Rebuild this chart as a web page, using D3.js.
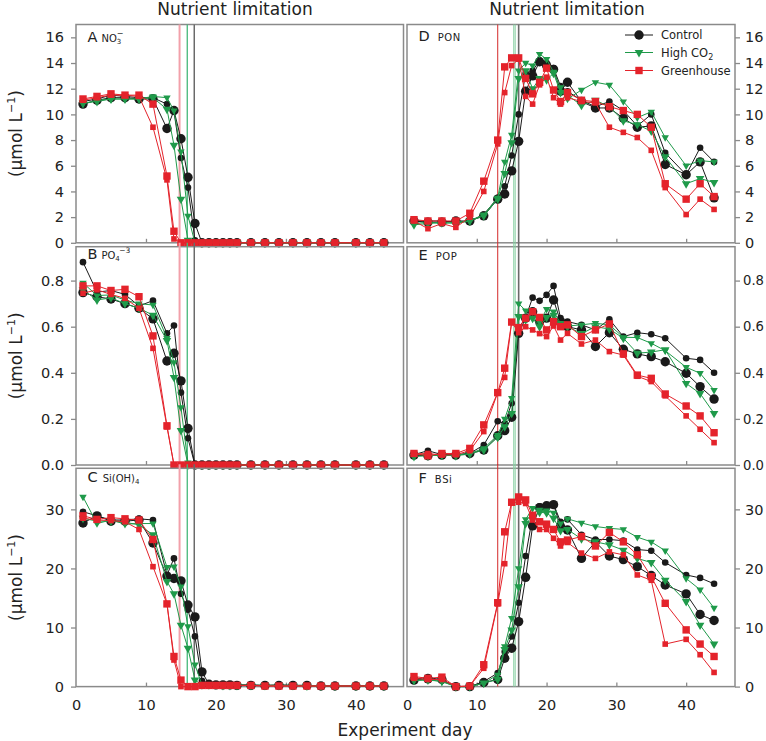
<!DOCTYPE html>
<html><head><meta charset="utf-8">
<script src="https://cdn.jsdelivr.net/npm/d3@7"></script>
<style>body{margin:0;background:#fff}svg{display:block}</style>
</head><body>
<svg id="chart" width="766" height="741"></svg>
<script>
// ---------- data ----------
const days = [1,3,5,7,9,11,13,14,15,16,17,18,19,20,21,22,23,25,27,29,31,33,35,37,40,42,44];

// A: NO3-
const no3Control = [
 [11.0,11.2,11.5,11.4,11.3,11.3,10.8,10.2,6.6,4.3,0.2,0,0,0,0,0,0,0,0,0,0,0,0,0,0,0,0],
 [10.8,11.1,11.3,11.3,11.2,11.2,8.9,10.3,8.1,5.1,1.5,0,0,0,0,0,0,0,0,0,0,0,0,0,0,0,0]];
const no3HighCO2 = [
 [10.8,11.1,11.2,11.2,11.2,11.4,11.3,10.3,7.1,2.1,0,0,0,0,0,0,0,0,0,0,0,0,0,0,0,0,0],
 [10.9,11.0,11.2,11.2,11.2,11.3,10.4,7.6,3.4,0.2,0,0,0,0,0,0,0,0,0,0,0,0,0,0,0,0,0]];
const no3Greenhouse = [
 [11.1,11.3,11.5,11.5,11.4,9.0,4.9,0.3,0,0,0,0,0,0,0,0,0,0,0,0,0,0,0,0,0,0,0],
 [11.2,11.4,11.6,11.5,11.5,10.8,5.2,0.9,0,0,0,0,0,0,0,0,0,0,0,0,0,0,0,0,0,0,0]];

// B: PO4-3
const po4Control = [
 [0.88,0.75,0.757,0.74,0.69,0.713,0.571,0.605,0.314,0.116,0,0,0,0,0,0,0,0,0,0,0,0,0,0,0,0,0],
 [0.748,0.73,0.72,0.70,0.68,0.634,0.451,0.485,0.365,0.159,0,0,0,0,0,0,0,0,0,0,0,0,0,0,0,0,0]];
const po4HighCO2 = [
 [0.79,0.735,0.738,0.715,0.70,0.694,0.55,0.445,0.25,0.01,0,0,0,0,0,0,0,0,0,0,0,0,0,0,0,0,0],
 [0.76,0.716,0.725,0.70,0.68,0.65,0.54,0.38,0.15,0,0,0,0,0,0,0,0,0,0,0,0,0,0,0,0,0,0]];
const po4Greenhouse = [
 [0.745,0.76,0.74,0.723,0.68,0.506,0.165,0,0,0,0,0,0,0,0,0,0,0,0,0,0,0,0,0,0,0,0],
 [0.777,0.777,0.757,0.762,0.73,0.56,0.17,0,0,0,0,0,0,0,0,0,0,0,0,0,0,0,0,0,0,0,0]];

// C: Si(OH)4
const siControl = [
 [29.6,28.9,28.2,28.2,28.4,28.2,18.9,21.7,15.7,13.0,8.5,1.0,0.3,0.3,0.3,0.3,0.3,0.3,0.2,0.3,0.2,0.2,0.1,0.1,0.1,0.1,0.1],
 [27.7,28.9,28.0,28.0,28.2,24.3,18.7,18.3,17.9,13.8,11.8,2.5,0.4,0.3,0.3,0.3,0.2,0.2,0.2,0.2,0.2,0.2,0.1,0.1,0.1,0.1,0.1]];
const siHighCO2 = [
 [32.1,27.6,28.2,27.5,27.6,27.6,20.2,20.3,16.9,10.2,3.7,0.3,0.3,0.3,0.3,0.3,0.3,0.2,0.2,0.2,0.2,0.2,0.1,0.1,0.1,0.1,0.1],
 [28.5,28.0,28.0,27.8,27.4,25.7,17.8,15.7,10.4,6.5,1.1,0.3,0.3,0.3,0.2,0.2,0.2,0.2,0.2,0.2,0.2,0.1,0.1,0.1,0.1,0.1,0.1]];
const siGreenhouse = [
 [28.5,28.2,28.1,27.9,26.6,20.3,14.0,4.5,0,0,0,0.2,0.2,0.2,0.2,0.2,0.2,0.2,0.1,0.1,0.1,0.1,0.1,0.1,0.1,0.1,0.1],
 [28.9,28.3,28.6,28.4,28.2,24.9,14.0,5.1,1.1,0,0,0.2,0.2,0.2,0.2,0.2,0.2,0.2,0.1,0.1,0.1,0.1,0.1,0.1,0.1,0.1,0.1]];

// D: PON
const ponControl = [
 [1.7,1.7,1.7,1.6,1.7,2.2,3.5,4.4,6.8,10.0,13.2,13.4,14.2,14.0,13.6,12.2,11.8,11.1,10.6,11.0,10.3,9.1,10.0,7.0,5.3,7.4,6.3],
 [1.7,1.6,1.6,1.7,1.7,2.1,3.4,3.8,5.6,7.9,11.8,13.0,14.1,13.8,13.5,11.8,12.5,11.0,10.5,10.5,9.7,9.0,9.1,6.1,5.3,6.3,3.5]];
const ponHighCO2 = [
 [1.5,1.6,1.5,1.6,1.7,2.2,3.5,6.3,8.4,13.4,14.0,13.8,14.7,14.3,13.3,12.1,11.2,11.9,12.5,12.3,11.0,9.75,10.2,8.2,6.0,6.4,6.3],
 [1.4,1.5,1.6,1.5,1.7,2.1,3.4,5.4,7.8,12.8,13.4,12.0,12.8,12.7,13.2,11.7,11.5,10.7,11.1,10.6,9.5,9.2,8.7,6.7,4.6,5.0,4.7]];
const ponGreenhouse = [
 [1.7,1.1,1.5,1.2,2.0,4.0,7.7,11.7,13.8,14.3,11.4,10.8,12.3,12.9,11.3,10.8,11.3,11.0,10.9,9.0,8.6,8.2,7.2,4.3,2.2,3.4,2.6],
 [1.8,1.7,1.7,1.7,2.3,4.8,8.0,13.7,14.4,14.4,12.8,11.6,12.5,13.6,11.9,11.0,11.7,11.1,11.0,10.6,10.3,10.0,9.0,4.6,3.4,4.6,3.6]];

// E: POP
const popControl = [
 [0.045,0.062,0.045,0.045,0.05,0.087,0.19,0.18,0.268,0.593,0.64,0.726,0.712,0.738,0.777,0.637,0.622,0.608,0.586,0.632,0.557,0.574,0.567,0.55,0.463,0.456,0.40],
 [0.043,0.04,0.043,0.043,0.05,0.065,0.127,0.149,0.207,0.571,0.637,0.665,0.622,0.637,0.716,0.622,0.60,0.586,0.514,0.574,0.502,0.482,0.47,0.448,0.398,0.34,0.286]];
const popHighCO2 = [
 [0.048,0.043,0.04,0.043,0.05,0.072,0.13,0.20,0.29,0.70,0.67,0.665,0.62,0.676,0.665,0.615,0.603,0.608,0.615,0.608,0.554,0.553,0.528,0.496,0.424,0.398,0.325],
 [0.037,0.04,0.043,0.04,0.048,0.065,0.12,0.166,0.224,0.644,0.63,0.636,0.60,0.64,0.65,0.61,0.60,0.57,0.60,0.59,0.55,0.485,0.49,0.50,0.354,0.31,0.224]];
const popGreenhouse = [
 [0.048,0.05,0.043,0.045,0.062,0.145,0.314,0.38,0.62,0.574,0.60,0.586,0.57,0.557,0.603,0.542,0.571,0.525,0.542,0.492,0.477,0.385,0.362,0.30,0.213,0.155,0.097],
 [0.05,0.04,0.05,0.05,0.072,0.174,0.314,0.42,0.62,0.596,0.637,0.665,0.64,0.586,0.622,0.60,0.608,0.557,0.586,0.612,0.482,0.39,0.376,0.308,0.256,0.213,0.14]];

// F: BSi
const bsiControl = [
 [1.2,1.6,1.1,0,0,0.85,2.3,5.9,8.5,14.2,22.1,28.8,30.5,30.7,30.9,27.9,28.3,25.7,24.9,24.9,24.7,23.2,23.0,21.0,18.9,18.4,17.4],
 [1.1,1.3,1.2,0,0,0.7,1.2,4.8,6.5,11.0,18.5,27.2,30.3,30.6,30.8,27.1,26.5,21.7,24.5,22.1,21.5,20.3,18.8,17.2,15.7,12.2,11.2]];
const bsiHighCO2 = [
 [1.0,1.2,0.85,0,0,0.56,2.0,6.8,11.6,20.0,28.3,30.2,29.9,29.8,29.4,27.6,28.4,27.7,27.1,26.8,26.6,25.3,24.5,23.0,18.3,16.4,13.3],
 [1.1,1.1,0.9,0,0,0.6,1.2,6.3,9.6,16.9,27.6,28.7,29.5,29.4,28.5,26.4,26.6,25.0,24.5,24.0,23.1,21.7,21.0,18.0,14.4,10.4,7.2]];
const bsiGreenhouse = [
 [1.4,1.2,1.2,0,0.1,3.1,14.0,20.8,31.2,31.2,31.0,28.2,26.6,26.6,25.1,23.8,24.4,22.6,21.7,22.8,22.3,18.9,18.0,7.2,8.0,5.4,2.4],
 [1.7,1.4,1.6,0,0.1,3.7,14.2,26.2,31.2,32.1,31.6,29.0,27.9,27.5,26.6,24.5,24.8,25.4,23.8,26.1,24.5,22.3,18.6,14.1,9.6,7.2,5.1]];

// ticks & labels
const ticksN = [0,2,4,6,8,10,12,14,16];
const ticksP = [0,0.2,0.4,0.6,0.8];
const ticksSi = [0,10,20,30];
const ticksDay = [0,10,20,30,40];
const treatments = ["Control","High CO2","Greenhouse"];
const limitDaysLeft = [14.8,15.9,16.9];
const limitDaysRight = [13,15.3,15.5,16];
const columnTitles = ["Nutrient limitation","Nutrient limitation"];

// ---------- layout ----------
const FONT = "'DejaVu Sans', sans-serif";
const colX = [76, 407], colW = [327.5, 328], xMax = [46.8, 47];
const rowY = [24.5, 246.7, 468.3], rowH = 218.3;
const axisColor = "#8a8a8a";

const styles = [
  {color:"#1a1a1a", shape:"circle", sizes:[3.3,4.7]},
  {color:"#1f9a4a", shape:"tri", sizes:[24,32]},
  {color:"#e4232b", shape:"square", sizes:[5.6,7.4]}
];
const leftLineStyles = [{c:"#f2a0aa",w:2},{c:"#45b87a",w:1.3},{c:"#6a6a6a",w:1.5}];
const rightLineStyles = [{c:"#d42a2a",w:1},{c:"#86cfa2",w:1},{c:"#86cfa2",w:1},{c:"#6a6a6a",w:1.6}];

const panels = [
 {letter:"A", col:0,row:0, yMax:17, ticks:ticksN, fmt:d3.format("d"), data:[no3Control,no3HighCO2,no3Greenhouse], lab:"NO3", ldy:17},
 {letter:"B", col:0,row:1, yMax:0.947, ticks:ticksP, fmt:d3.format(".1f"), data:[po4Control,po4HighCO2,po4Greenhouse], lab:"PO4", ldy:12},
 {letter:"C", col:0,row:2, yMax:36.95, ticks:ticksSi, fmt:d3.format("d"), data:[siControl,siHighCO2,siGreenhouse], lab:"SI", ldy:13.5},
 {letter:"D", col:1,row:0, yMax:17, ticks:ticksN, fmt:d3.format("d"), data:[ponControl,ponHighCO2,ponGreenhouse], lab:"PON", ldy:16.3},
 {letter:"E", col:1,row:1, yMax:0.947, ticks:ticksP, fmt:d3.format(".1f"), data:[popControl,popHighCO2,popGreenhouse], lab:"POP", ldy:13.3},
 {letter:"F", col:1,row:2, yMax:36.95, ticks:ticksSi, fmt:d3.format("d"), data:[bsiControl,bsiHighCO2,bsiGreenhouse], lab:"BSi", ldy:14.4}
];

const svg = d3.select("#chart").attr("font-family", FONT);

function drawMarker(g, shape, size, color, cx, cy){
  if(shape==="circle"){
    g.append("circle").attr("cx",cx).attr("cy",cy).attr("r",size).attr("fill",color);
  } else if(shape==="square"){
    g.append("rect").attr("x",cx-size/2).attr("y",cy-size/2).attr("width",size).attr("height",size).attr("fill",color);
  } else {
    g.append("path").attr("d", d3.symbol(d3.symbolTriangle).size(size)())
      .attr("transform",`translate(${cx},${cy}) rotate(180)`).attr("fill",color);
  }
}

panels.forEach(p => {
  const x0 = colX[p.col], w = colW[p.col], y0 = rowY[p.row];
  const x = d3.scaleLinear().domain([0, xMax[p.col]]).range([x0, x0 + w]);
  const y = d3.scaleLinear().domain([0, p.yMax]).range([y0 + rowH, y0]);
  const g = svg.append("g");

  // frame
  g.append("rect").attr("x",x0).attr("y",y0).attr("width",w).attr("height",rowH)
    .attr("fill","none").attr("stroke",axisColor).attr("stroke-width",1.5);

  // x ticks (inward)
  const bottomRow = p.row === 2;
  const xa = g.append("g").attr("transform",`translate(0,${y0+rowH})`)
    .call(d3.axisBottom(x).tickValues(bottomRow ? ticksDay : ticksDay.slice(1)).tickSize(-4).tickPadding(13).tickFormat(d3.format("d")));
  xa.select(".domain").remove();
  xa.selectAll("line").attr("stroke",axisColor).attr("stroke-width",1.3);
  xa.selectAll("text").attr("font-size",14.5).attr("fill","#222").attr("font-family",FONT);
  if(!bottomRow) xa.selectAll("text").remove();
  if(bottomRow) xa.selectAll(".tick").filter(d=>d===0).select("line").remove();

  // y axis
  const decimalRight = p.col===1 && p.yMax < 1;
  const ya = g.append("g")
    .attr("transform",`translate(${p.col===0 ? x0 : x0+w},0)`)
    .call((p.col===0 ? d3.axisLeft(y) : d3.axisRight(y)).tickValues(p.ticks).tickSize(5)
      .tickPadding(p.col===0 ? 7 : (decimalRight ? 3 : 5)).tickFormat(p.fmt));
  ya.select(".domain").remove();
  ya.selectAll("line").attr("stroke",axisColor).attr("stroke-width",1.3);
  ya.selectAll("text").attr("font-size",decimalRight ? 13.2 : 14.5).attr("fill","#222").attr("font-family",FONT);

  // y label
  if(p.col===0){
    const t = svg.append("text")
      .attr("transform",`translate(22,${y0+rowH/2}) rotate(-90)`)
      .attr("text-anchor","middle").attr("font-size",17).attr("fill","#222");
    t.append("tspan").text("(μmol L");
    t.append("tspan").attr("font-size",11).attr("dy",-7).text("−1");
    t.append("tspan").attr("dy",7).text(")");
  }

  // panel label
  const lt = g.append("text").attr("x",x0+11.5).attr("y",y0+p.ldy).attr("fill","#222");
  lt.append("tspan").attr("font-size",14.5).text(p.letter);
  const small = 10;
  if(p.lab==="NO3"){
    lt.append("tspan").attr("font-size",small).attr("dx",4).text("NO");
    lt.append("tspan").attr("font-size",7).attr("dy",2.5).text("3");
    lt.append("tspan").attr("font-size",8).attr("dx",-4.5).attr("dy",-8).text("−");
  } else if(p.lab==="PO4"){
    lt.append("tspan").attr("font-size",small).attr("dx",4).text("PO");
    lt.append("tspan").attr("font-size",7).attr("dy",2.5).text("4");
    lt.append("tspan").attr("font-size",7.5).attr("dx",-0.5).attr("dy",-8).text("−3");
  } else if(p.lab==="SI"){
    lt.append("tspan").attr("font-size",small).attr("dx",5).text("Si(OH)");
    lt.append("tspan").attr("font-size",7).attr("dy",2.5).text("4");
  } else {
    lt.append("tspan").attr("font-size",small).attr("dx",8).attr("letter-spacing",0.6).text(p.lab);
  }

  // limitation lines
  const lds = p.col===0 ? limitDaysLeft : limitDaysRight;
  const lss = p.col===0 ? leftLineStyles : rightLineStyles;
  lds.forEach((d,i)=>{
    g.append("line").attr("x1",x(d)).attr("x2",x(d)).attr("y1",y0-(p.row>0?4:0)).attr("y2",y0+rowH)
      .attr("stroke",lss[i].c).attr("stroke-width",lss[i].w);
  });

  // series
  const line = d3.line().x((d,i)=>x(days[i])).y(d=>y(d));
  p.data.forEach((reps,ti)=>{
    const st = styles[ti];
    reps.forEach((vals,ri)=>{
      g.append("path").datum(vals).attr("d",line).attr("fill","none")
        .attr("stroke",st.color).attr("stroke-width",1);
    });
    reps.forEach((vals,ri)=>{
      const mg = g.append("g");
      vals.forEach((v,i)=> drawMarker(mg, st.shape, st.sizes[ri], st.color, x(days[i]), y(v)));
    });
  });
});

// column titles
columnTitles.forEach((t,i)=>{
  svg.append("text").attr("x", i===0 ? 235 : 567).attr("y",15).attr("text-anchor","middle")
    .attr("font-size",17).attr("fill","#222").text(t);
});

// x label
svg.append("text").attr("x",405).attr("y",736).attr("text-anchor","middle")
  .attr("font-size",17).attr("fill","#222").text("Experiment day");

// legend
const lg = svg.append("g");
const legY = [35, 52.5, 70.5];
treatments.forEach((name,i)=>{
  const st = styles[i];
  lg.append("line").attr("x1",625).attr("x2",653).attr("y1",legY[i]).attr("y2",legY[i])
    .attr("stroke",st.color).attr("stroke-width",1);
  drawMarker(lg, st.shape, st.sizes[1], st.color, 639, legY[i]);
  const t = lg.append("text").attr("x",661).attr("y",legY[i]+4).attr("font-size",11.5).attr("fill","#222");
  if(name==="High CO2"){
    t.append("tspan").text("High CO");
    t.append("tspan").attr("font-size",8).attr("dy",3).text("2");
  } else t.text(name);
});
</script>
</body></html>
